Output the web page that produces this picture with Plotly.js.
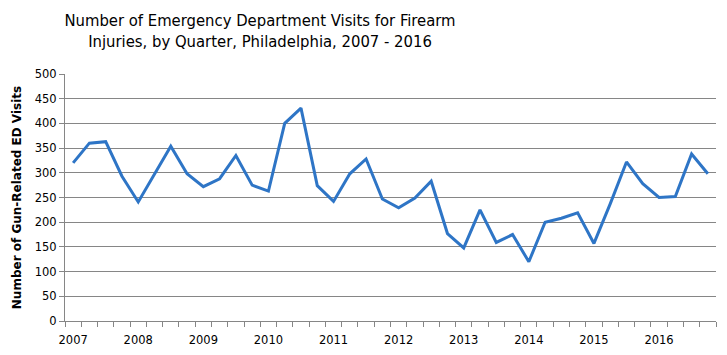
<!DOCTYPE html>
<html>
<head>
<meta charset="utf-8">
<script src="https://cdn.plot.ly/plotly-3.0.1.min.js"></script>
<style>html,body{margin:0;padding:0;background:#fff;}#chart{width:727px;height:355px;}</style>
</head>
<body>
<div id="chart"></div>
<script>
const years = [2007, 2008, 2009, 2010, 2011, 2012, 2013, 2014, 2015, 2016];
const quarterNames = ["Q1", "Q2", "Q3", "Q4"];
const visits = [
  320, 360, 363, 293,
  241, 297, 354, 298,
  272, 288, 335, 275,
  263, 400, 431, 274,
  242, 298, 328, 247,
  229, 249, 283, 177,
  148, 225, 159, 175,
  120, 200, 208, 219,
  157, 237, 322, 278,
  250, 252, 338, 298
];

const categories = [];
const tickText = [];
years.forEach(y => quarterNames.forEach((q, i) => {
  categories.push(y + " " + q);
  tickText.push(i === 0 ? String(y) : "");
}));

const trace = {
  x: categories,
  y: visits,
  type: "scatter",
  mode: "lines",
  line: {color: "#2E75C6", width: 3},
  hoverinfo: "x+y"
};

const layout = {
  width: 727,
  height: 355,
  margin: {l: 65, r: 11, t: 74, b: 34},
  paper_bgcolor: "#ffffff",
  plot_bgcolor: "#ffffff",
  showlegend: false,
  title: {
    text: "Number of Emergency Department Visits for Firearm<br>Injuries, by Quarter, Philadelphia, 2007 - 2016",
    font: {family: "DejaVu Sans Condensed, sans-serif", size: 16.5, color: "#000000"},
    x: 260 / 727,
    xanchor: "center",
    xref: "container",
    y: 1 - 26 / 355,
    yref: "container",
    yanchor: "top"
  },
  xaxis: {
    type: "category",
    range: [-0.5, categories.length - 0.5],
    tickmode: "array",
    tickvals: categories,
    ticktext: tickText,
    tickson: "boundaries",
    ticks: "outside",
    ticklen: 5,
    tickcolor: "#868686",
    ticklabelstandoff: 8,
    showgrid: false,
    showline: true,
    linecolor: "#868686",
    linewidth: 1,
    zeroline: false,
    tickangle: 0,
    tickfont: {family: "DejaVu Sans, sans-serif", size: 11.5, color: "#000000"}
  },
  yaxis: {
    range: [0, 500],
    dtick: 50,
    tick0: 0,
    ticks: "outside",
    ticklen: 5,
    tickcolor: "#868686",
    showgrid: true,
    gridcolor: "#868686",
    gridwidth: 1,
    showline: true,
    linecolor: "#868686",
    linewidth: 1,
    zeroline: false,
    tickfont: {family: "DejaVu Sans, sans-serif", size: 11.5, color: "#000000"},
    title: {
      text: "Number of Gun-Related ED Visits",
      font: {family: "DejaVu Sans, sans-serif", size: 12, color: "#000000", weight: "bold"},
      standoff: 10
    }
  }
};

Plotly.newPlot("chart", [trace], layout, {displayModeBar: false, staticPlot: true});
</script>
</body>
</html>
